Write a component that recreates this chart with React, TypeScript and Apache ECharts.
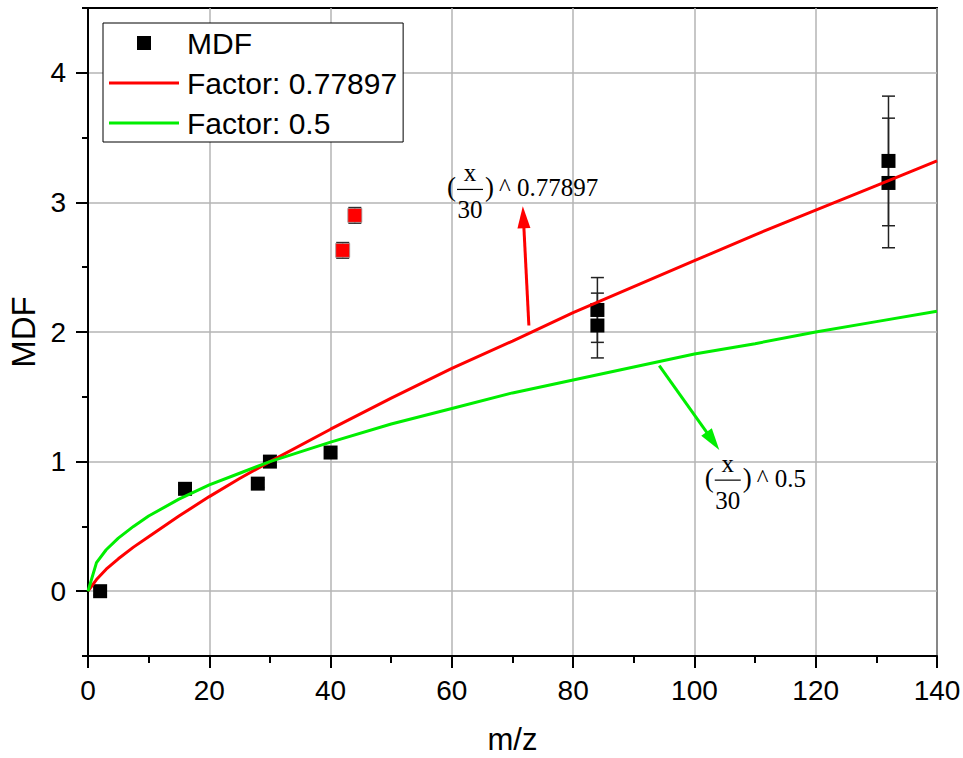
import React, { useEffect, useRef } from 'react';
import * as echarts from 'echarts';

// ---- data ----
const mdfX = [2, 16, 28, 30, 40, 84, 84, 132, 132];
const mdfY = [0, 0.79, 0.83, 1.0, 1.07, 2.17, 2.05, 3.32, 3.15];
const mdfErr = [0.03, 0.03, 0.03, 0.03, 0.03, 0.25, 0.25, 0.5, 0.5];

const outlierX = [42, 44];
const outlierY = [2.63, 2.9];
const outlierErr = [0.06, 0.06];

const curveX = [0, 1.4, 3, 5, 7.5, 10, 15, 20, 25, 30, 40, 50, 60, 70, 80, 90, 100, 110, 120, 130, 140];
const fitRedY = [0, 0.09, 0.17, 0.25, 0.34, 0.42, 0.58, 0.73, 0.87, 1.0, 1.25, 1.49, 1.72, 1.93, 2.15, 2.35, 2.55, 2.75, 2.94, 3.13, 3.32];
const fitGreenY = [0, 0.22, 0.32, 0.41, 0.5, 0.58, 0.71, 0.82, 0.91, 1.0, 1.15, 1.29, 1.41, 1.53, 1.63, 1.73, 1.83, 1.91, 2.0, 2.08, 2.16];

const yMajorTicks = [0, 1, 2, 3, 4];
const seriesNames = ['MDF', 'Factor: 0.77897', 'Factor: 0.5'];

// annotation anchors (data coordinates)
const redLabelAnchor = [59.2, 3.1];
const redArrowFrom = [72.7, 2.05];
const redArrowTo = [71.7, 2.97];
const greenLabelAnchor = [101.7, 0.857];
const greenArrowFrom = [94.2, 1.74];
const greenArrowTo = [104.1, 1.09];

const SANS = '"Liberation Sans", Arial, sans-serif';
const SERIF = '"Liberation Serif", "Times New Roman", serif';

function fracLabel(px: number[], exponent: string) {
  const L = px[0];
  const B = px[1];
  const f = { fontFamily: SERIF, fontSize: 25, fill: '#000' };
  return {
    type: 'group',
    z: 100,
    children: [
      { type: 'text', x: L, y: B - 2, style: { ...f, fontSize: 27, text: '(', align: 'left', verticalAlign: 'middle' } },
      { type: 'text', x: L + 23, y: B - 17, style: { ...f, text: 'x', align: 'center', verticalAlign: 'middle' } },
      { type: 'line', shape: { x1: L + 10, y1: B, x2: L + 36, y2: B }, style: { stroke: '#000', lineWidth: 1.2 } },
      { type: 'text', x: L + 23, y: B + 20, style: { ...f, text: '30', align: 'center', verticalAlign: 'middle' } },
      { type: 'text', x: L + 38, y: B - 2, style: { ...f, fontSize: 27, text: ')', align: 'left', verticalAlign: 'middle' } },
      { type: 'text', x: L + 52, y: B - 2, style: { ...f, text: '^ ' + exponent, align: 'left', verticalAlign: 'middle' } },
    ],
  };
}

function arrow(from: number[], to: number[], color: string) {
  const dx = to[0] - from[0];
  const dy = to[1] - from[1];
  const len = Math.sqrt(dx * dx + dy * dy) || 1;
  const ux = dx / len;
  const uy = dy / len;
  const H = 22;
  const W = 6.5;
  const bx = to[0] - ux * H;
  const by = to[1] - uy * H;
  const nx = -uy;
  const ny = ux;
  return {
    type: 'group',
    z: 100,
    children: [
      { type: 'line', shape: { x1: from[0], y1: from[1], x2: bx + ux * 2, y2: by + uy * 2 }, style: { stroke: color, lineWidth: 3 } },
      {
        type: 'polygon',
        shape: { points: [[to[0], to[1]], [bx + nx * W, by + ny * W], [bx - nx * W, by - ny * W]] },
        style: { fill: color },
      },
    ],
  };
}

export default function App() {
  const ref = useRef<HTMLDivElement>(null);

  useEffect(() => {
    document.body.style.margin = '0';
    if (!ref.current) return;
    const chart = echarts.init(ref.current, null, { renderer: 'svg' });

    const errData = mdfX
      .map((x, i) => [x, mdfY[i], mdfErr[i]])
      .concat(outlierX.map((x, i) => [x, outlierY[i], outlierErr[i]]));

    const option: any = {
      animation: false,
      backgroundColor: '#fff',
      grid: {
        left: 88,
        right: 26,
        top: 8,
        bottom: 102,
        containLabel: false,
        outerBoundsMode: 'none',
        show: true,
        borderColor: '#000',
        borderWidth: 2,
        backgroundColor: 'transparent',
      },
      legend: {
        data: [
          { name: seriesNames[0], icon: 'path://M0,0h14v14h-14z' },
          { name: seriesNames[1], icon: 'path://M0,0h70v3h-70z' },
          { name: seriesNames[2], icon: 'path://M0,0h70v3h-70z' },
        ],
        orient: 'vertical',
        left: 103,
        top: 23,
        itemWidth: 70,
        itemHeight: 14,
        itemGap: 10,
        symbolKeepAspect: true,
        padding: [5, 6, 4, 6],
        borderColor: '#000',
        borderWidth: 1,
        borderRadius: 0,
        backgroundColor: '#fff',
        selectedMode: false,
        textStyle: { fontSize: 30, fontFamily: SANS, color: '#000', padding: [0, 0, 0, 3] },
        z: 50,
      },
      xAxis: [
        {
          type: 'value',
          min: 0,
          max: 140,
          interval: 20,
          name: 'm/z',
          nameLocation: 'middle',
          nameGap: 68,
          nameTextStyle: { fontSize: 31, fontFamily: SANS, color: '#000' },
          axisLine: { show: true, onZero: false, lineStyle: { color: '#000', width: 2 } },
          axisTick: { show: true, length: 12, lineStyle: { color: '#000', width: 2 } },
          minorTick: { show: true, splitNumber: 2, length: 7, lineStyle: { color: '#000', width: 2 } },
          axisLabel: { fontSize: 28, fontFamily: SANS, color: '#000', margin: 20 },
          splitLine: { show: true, lineStyle: { color: '#b4b4b4', width: 1.5 } },
        },
      ],
      yAxis: [
        {
          type: 'value',
          min: -0.5,
          max: 4.5,
          interval: 0.5,
          position: 'left',
          name: 'MDF',
          nameLocation: 'middle',
          nameGap: 46,
          nameTextStyle: { fontSize: 33, fontFamily: SANS, color: '#000' },
          axisLine: { show: true, onZero: false, lineStyle: { color: '#000', width: 2 } },
          axisTick: { show: true, length: 12, customValues: yMajorTicks, lineStyle: { color: '#000', width: 2 } },
          axisLabel: { fontSize: 28, fontFamily: SANS, color: '#000', margin: 22, customValues: yMajorTicks },
          splitLine: { show: true, lineStyle: { color: '#b4b4b4', width: 1.5 } },
        },
        {
          type: 'value',
          min: -0.5,
          max: 4.5,
          interval: 0.5,
          position: 'left',
          axisLine: { show: false },
          axisTick: { show: true, length: 6, lineStyle: { color: '#000', width: 2 } },
          axisLabel: { show: false },
          splitLine: { show: false },
        },
      ],
      series: [
        {
          type: 'custom',
          name: 'errorbars',
          xAxisIndex: 0,
          yAxisIndex: 0,
          z: 1,
          encode: { x: 0, y: 1 },
          data: errData,
          renderItem: (params: any, api: any) => {
            const x = api.value(0);
            const y = api.value(1);
            const e = api.value(2);
            const top = api.coord([x, y + e]);
            const bot = api.coord([x, y - e]);
            const hw = 6.5;
            const style = { stroke: '#222', lineWidth: 1.5 };
            return {
              type: 'group',
              children: [
                { type: 'line', shape: { x1: top[0], y1: top[1], x2: bot[0], y2: bot[1] }, style },
                { type: 'line', shape: { x1: top[0] - hw, y1: top[1], x2: top[0] + hw, y2: top[1] }, style },
                { type: 'line', shape: { x1: bot[0] - hw, y1: bot[1], x2: bot[0] + hw, y2: bot[1] }, style },
              ],
            };
          },
        },
        {
          type: 'scatter',
          name: seriesNames[0],
          z: 3,
          symbol: 'rect',
          symbolSize: 14,
          itemStyle: { color: '#000', opacity: 1 },
          data: mdfX.map((x, i) => [x, mdfY[i]]),
        },
        {
          type: 'scatter',
          name: 'outliers',
          z: 3,
          symbol: 'rect',
          symbolSize: 14,
          itemStyle: { color: '#ff0000', borderColor: '#999', borderWidth: 0.8, opacity: 1 },
          data: outlierX.map((x, i) => [x, outlierY[i]]),
        },
        {
          type: 'line',
          name: seriesNames[1],
          z: 4,
          symbol: 'none',
          showSymbol: false,
          color: '#ff0000',
          lineStyle: { color: '#ff0000', width: 3 },
          data: curveX.map((x, i) => [x, fitRedY[i]]),
        },
        {
          type: 'line',
          name: seriesNames[2],
          z: 4,
          symbol: 'none',
          showSymbol: false,
          color: '#00ee00',
          lineStyle: { color: '#00ee00', width: 3 },
          data: curveX.map((x, i) => [x, fitGreenY[i]]),
        },
      ],
    };

    chart.setOption(option);

    const toPx = (p: number[]) => chart.convertToPixel({ xAxisIndex: 0, yAxisIndex: 0 }, p) as number[];
    chart.setOption({
      graphic: [
        fracLabel(toPx(redLabelAnchor), '0.77897'),
        arrow(toPx(redArrowFrom), toPx(redArrowTo), '#ff0000'),
        fracLabel(toPx(greenLabelAnchor), '0.5'),
        arrow(toPx(greenArrowFrom), toPx(greenArrowTo), '#00ee00'),
      ],
    });

    return () => chart.dispose();
  }, []);

  return <div ref={ref} style={{ width: 963, height: 758 }} />;
}
